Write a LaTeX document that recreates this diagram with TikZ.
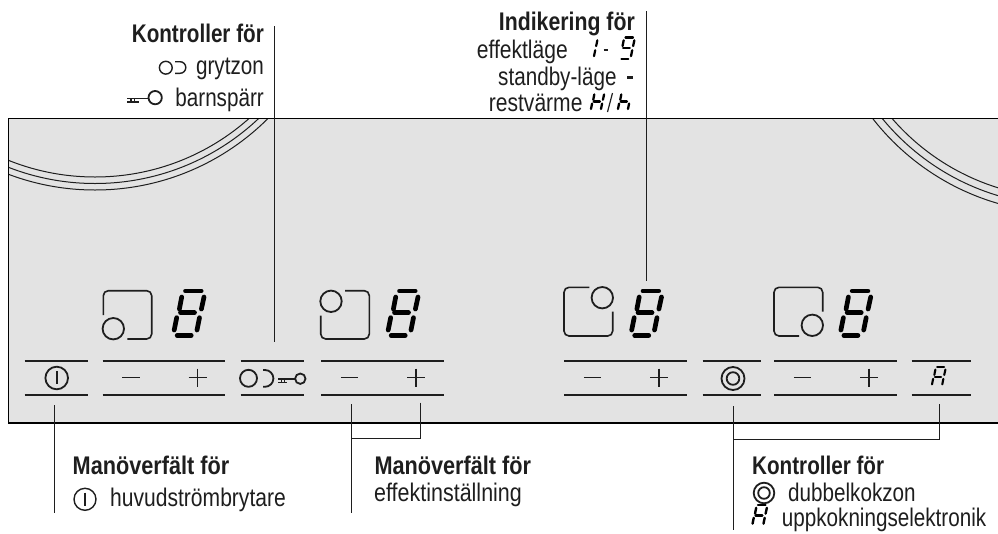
\documentclass[tikz,border=0pt]{standalone}
\usepackage{graphicx}
\usepackage{fontspec}
\setmainfont[FakeStretch=0.81]{Liberation Sans}
\definecolor{panelgray}{HTML}{E3E3E3}
\definecolor{inkc}{HTML}{1E1E1E}
\newcommand\segT{\draw (13.5,-47) -- (29.2,-47);}
\newcommand\segM{\draw (8.5,-25.3) -- (22.5,-25.3);}
\newcommand\segB{\draw (5.2,-2.6) -- (19.2,-2.6);}
\newcommand\segUL{\draw (9.7,-41) -- (7.4,-29);}
\newcommand\segUR{\draw (32,-41) -- (29.4,-29);}
\newcommand\segLL{\draw (4.7,-20.3) -- (2.2,-8);}
\newcommand\segLR{\draw (27.5,-20.3) -- (25,-8);}
% x, y, scale, line width, list of segments
\newcommand\dgt[5]{\begin{scope}[shift={(#1,#2)},scale=#3,line width=#4,line cap=round,draw=black]
\foreach \s in {#5} {\csname seg\s\endcsname}
\end{scope}}
\newcommand\keysym[3]{\begin{scope}[shift={(#1,#2)},scale=#3]
\draw[symline] (0,0) -- (17,0);
\draw[symline] (22,-0.6) circle (5.2);
\draw[line width=1.5pt,draw=inkc] (0,3) -- (9,3);
\draw[line width=1.4pt,draw=inkc] (3,0) -- (3,3);
\draw[line width=1.4pt,draw=inkc] (6,0) -- (6,3);
\end{scope}}
\newcommand\wider[2]{\scalebox{#1}[1]{#2}}
\tikzset{
  leader/.style={line width=1pt,draw=inkc},
  barline/.style={line width=1.7pt,draw=inkc},
  symline/.style={line width=1.8pt,draw=inkc},
  thinsym/.style={line width=1.4pt,draw=inkc},
  zoneline/.style={line width=1.6pt,draw=inkc,rounded corners=5pt},
  ring/.style={line width=1pt,draw=inkc},
  lbl/.style={inner sep=0pt,text=inkc,font=\fontsize{25.5}{28}\selectfont},
  lblb/.style={lbl,font=\fontsize{25.5}{28}\selectfont\bfseries},
  rt/.style={anchor=base east},
  lt/.style={anchor=base west},
}
\begin{document}
\begin{tikzpicture}[x=1pt,y=-1pt]
\useasboundingbox (0,0) rectangle (998,533);
% panel
\fill[panelgray] (8.5,118.5) rectangle (998,423);
\begin{scope}
\clip (8.5,118.5) rectangle (998,423);
\foreach \r in {232,238.5,245} \draw[ring] (95,-55) circle (\r);
\foreach \r in {230,237.5,245} \draw[ring] (1066,-32) circle (\r);
\end{scope}
\draw[line width=1.3pt,draw=black] (998,118.5) -- (8.5,118.5) -- (8.5,423) -- (998,423);
% button bars
\foreach \a/\b in {24.5/88,102.5/225,240.7/304,321.3/444,564.3/687.3,702.7/761.3,774.3/897.3,911.7/970.7}{
  \draw[barline] (\a,361) -- (\b,361);
  \draw[barline] (\a,395.3) -- (\b,395.3);
}
% minus / plus
\foreach \a in {102.5,321.3,564.3,774.3}{
  \draw[symline] (\a+19.5,377.5) -- (\a+37,377.5);
  \draw[symline] (\a+95,368.5) -- (\a+95,386.5);
  \draw[symline] (\a+86,377.5) -- (\a+104,377.5);
}
% power symbol
\draw[symline] (56.7,378) circle (11.3);
\draw[symline] (56.7,371) -- (56.7,384);
% grytzon + key in button
\draw[symline] (248.5,378.3) circle (8.5);
\draw[symline] (263,370) -- (265,370) arc[start angle=-90,end angle=90,radius=8.4] -- (263,386.8);
\keysym{278.3}{379.3}{1}
% double zone symbol
\draw[symline] (733,378.5) circle (11.5);
\draw[symline] (733,378.5) circle (6.3);
% zone pictograms
\draw[zoneline] (103.3,315) -- (103.3,290.7) -- (151.7,290.7) -- (151.7,339) -- (127.3,339);
\draw[symline] (113.3,328.7) circle (10.7);
\draw[zoneline] (345,290.7) -- (369.3,290.7) -- (369.3,339) -- (320.7,339) -- (320.7,315.7);
\draw[symline] (331,301.3) circle (10.7);
\draw[zoneline] (589.3,287.3) -- (564,287.3) -- (564,336) -- (612.7,336) -- (612.7,311.7);
\draw[symline] (602.3,297.7) circle (10.7);
\draw[zoneline] (822.7,311.7) -- (822.7,287.3) -- (774,287.3) -- (774,336) -- (799,336);
\draw[symline] (812.3,325.3) circle (10.7);
% seven segment digits
\dgt{172}{338}{1}{4.7pt}{T,M,B,UL,UR,LL,LR}
\dgt{386}{338}{1}{4.7pt}{T,M,B,UL,UR,LL,LR}
\dgt{629.5}{338}{1}{4.7pt}{T,M,B,UL,UR,LL,LR}
\dgt{838.7}{338}{1}{4.7pt}{T,M,B,UL,UR,LL,LR}
\dgt{931}{388}{0.45}{2.1pt}{T,M,UL,UR,LL,LR}
% leaders
\coordinate (t1a) at (274,26); \coordinate (t1b) at (274,341.7);
\coordinate (t2a) at (646.3,11); \coordinate (t2b) at (646.3,280.7);
\coordinate (b1a) at (54.7,405); \coordinate (b1b) at (54.7,512.7);
\coordinate (b2a) at (351,404.3); \coordinate (b2b) at (351,513);
\coordinate (b2c) at (420,402.7); \coordinate (b2d) at (420,438.3);
\coordinate (b2e) at (351,438.3);
\coordinate (b3a) at (733,406); \coordinate (b3b) at (733,530);
\coordinate (b3c) at (939,404.3); \coordinate (b3d) at (939,439.3);
\coordinate (b3e) at (733,439.3);
\draw[leader] (t1a) -- (t1b);
\draw[leader] (t2a) -- (t2b);
\draw[leader] (b1a) -- (b1b);
\draw[leader] (b2a) -- (b2b);
\draw[leader] (b2c) -- (b2d) -- (b2e);
\draw[leader] (b3a) -- (b3b);
\draw[leader] (b3c) -- (b3d) -- (b3e);
% top left labels
\node[lblb,rt] (k1) at (264,42.7) {Kontroller för};
\node[lbl,rt] (k2) at (264,74) {grytzon};
\node[lbl,rt] (k3) at (264,106) {barnspärr};
\draw[thinsym] (165.8,67.7) circle (6.4);
\draw[thinsym] (175,61.7) -- (180,61.7) arc[start angle=-90,end angle=90,radius=5.8] -- (175,73.3);
\keysym{127}{98.4}{1.28}
% top right labels
\node[lblb,rt] (i1) at (635,30) {\wider{1.03}{Indikering för}};
\node[lbl,rt] (i2) at (568,58) {\wider{1.02}{effektläge}};
\node[lbl,rt] (i3) at (616.7,85) {standby-läge};
\node[lbl,rt] (i4) at (582.7,111.7) {\wider{1.02}{restvärme}};
\dgt{582}{60}{0.48}{2.2pt}{UR,LR}
\draw[line width=1.2pt,draw=inkc] (603.5,50) -- (608,50);
\dgt{619}{60}{0.48}{2.3pt}{T,M,B,UL,UR,LR}
\draw[line width=2.6pt,draw=inkc] (627,77.5) -- (633,77.5);
\dgt{590}{112.5}{0.44}{2.3pt}{M,UL,UR,LL,LR}
\draw[line width=1.2pt,draw=inkc] (612.5,93) -- (607.5,112);
\dgt{617}{112.5}{0.44}{2.3pt}{M,UL,LL,LR}
% bottom labels
\node[lblb,lt] (m1) at (72.5,474.3) {\wider{1.05}{Manöverfält för}};
\draw[thinsym] (85,499.3) circle (11);
\draw[thinsym] (85,492.5) -- (85,506);
\node[lbl,lt] (m2) at (110,506) {\wider{1.02}{huvudströmbrytare}};
\node[lblb,lt] (e1) at (374.3,474.3) {\wider{1.05}{Manöverfält för}};
\node[lbl,lt] (e2) at (374,501.7) {\wider{1.04}{effektinställning}};
\node[lblb,lt] (d1) at (752,474) {Kontroller för};
\draw[symline] (764,493) circle (10.3);
\draw[symline] (764,493) circle (5.8);
\node[lbl,lt] (d2) at (788,501.7) {dubbelkokzon};
\dgt{751.5}{527.5}{0.48}{2.4pt}{T,M,UL,UR,LL,LR}
\node[lbl,lt] (d3) at (781.7,526.7) {uppkokningselektronik};
\end{tikzpicture}
\end{document}
